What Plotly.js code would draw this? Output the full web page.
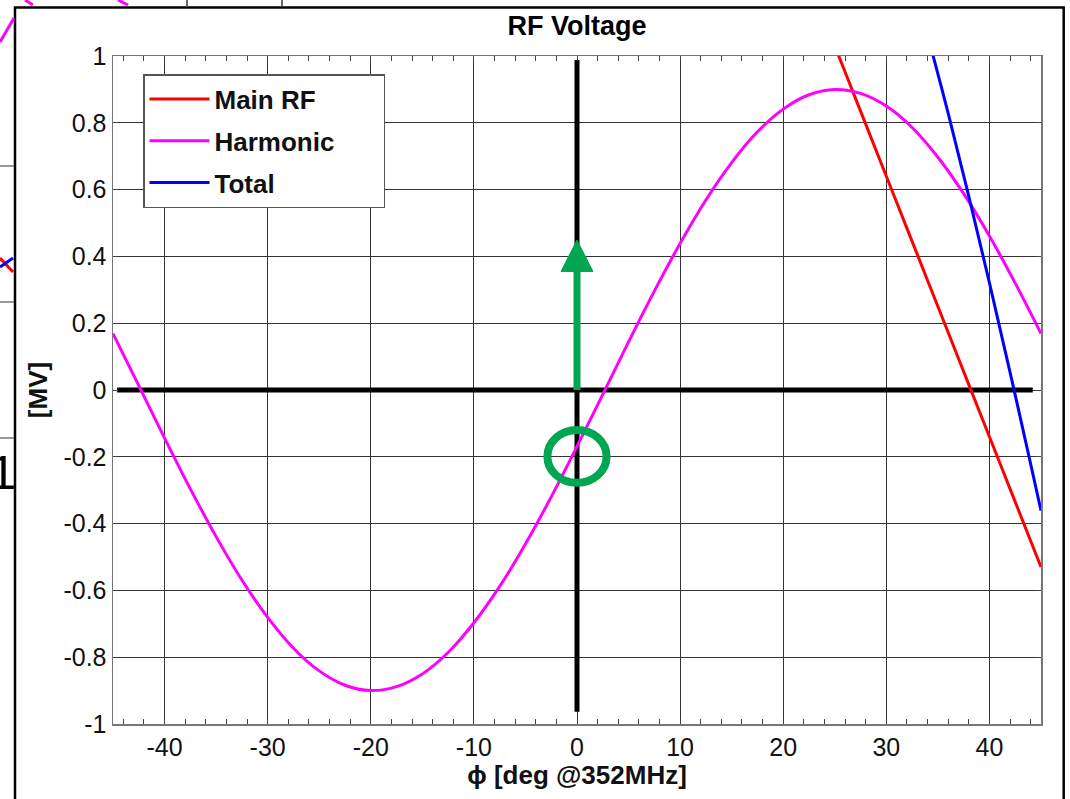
<!DOCTYPE html>
<html>
<head>
<meta charset="utf-8">
<script src="https://cdn.plot.ly/plotly-3.0.1.min.js"></script>
<style>html,body{margin:0;padding:0;background:#fff;}#chart{width:1070px;height:799px;}</style>
</head>
<body>
<div id="chart"></div>
<script>
// ---- data ----
const phiHarm = [-45,-42.5,-40,-37.5,-35,-32.5,-30,-27.5,-25,-22.5,-20,-17.5,-15,-12.5,-10,-7.5,-5,-2.5,0,2.5,5,7.5,10,12.5,15,17.5,20,22.5,25,27.5,30,32.5,35,37.5,40,42.5,45];
const vHarm = [0.169,0.013,-0.144,-0.296,-0.439,-0.569,-0.681,-0.773,-0.841,-0.884,-0.900,-0.888,-0.850,-0.786,-0.697,-0.588,-0.461,-0.320,-0.169,-0.013,0.144,0.296,0.439,0.569,0.681,0.773,0.841,0.884,0.900,0.888,0.850,0.786,0.697,0.588,0.461,0.320,0.169];
const phiMain = [24,26,28,30,32,34,36,38,40,42,44,45];
const vMain = [1.108,0.952,0.796,0.640,0.484,0.328,0.172,0.016,-0.140,-0.296,-0.452,-0.530];
const phiTotal = [33,34,36,38,40,42,44,45];
const vTotal = [1.176,1.063,0.828,0.580,0.321,0.053,-0.222,-0.361];
const axisHX = [-44.6, 44.2], axisHY = [0, 0];
const axisVX = [0, 0], axisVY = [-0.963, 0.988];
const arrowBaseY = 0, arrowHeadBaseY = 0.355, arrowTipY = 0.449, arrowHalfW = 1.55;
const circleX = [-2.87, 2.87], circleY = [-0.278, -0.120];
const xTickVals = [-40,-30,-20,-10,0,10,20,30,40];
const xTickText = ['-40','-30','-20','-10','0','10','20','30','40'];
const yTickVals = [-1,-0.8,-0.6,-0.4,-0.2,0,0.2,0.4,0.6,0.8,1];
const yTickText = ['-1','-0.8','-0.6','-0.4','-0.2','0','0.2','0.4','0.6','0.8','1'];
const seriesNames = ['Main RF','Harmonic','Total'];

const FONT = 'Liberation Sans, Arial, sans-serif';
const GREEN = 'rgb(0,166,81)';
const NB = '\u00a0';

const traces = [
  {x: axisHX, y: axisHY, mode:'lines', line:{color:'#000', width:5}, showlegend:false, hoverinfo:'skip'},
  {x: axisVX, y: axisVY, mode:'lines', line:{color:'#000', width:5}, showlegend:false, hoverinfo:'skip'},
  {x: phiMain, y: vMain, name: seriesNames[0], mode:'lines', line:{color:'#FF0000', width:3, shape:'spline'}, legendgroup:'a'},
  {x: phiHarm, y: vHarm, name: seriesNames[1] + NB.repeat(6), mode:'lines', line:{color:'#FF00FF', width:3, shape:'spline'}, legendgroup:'b'},
  {x: phiTotal, y: vTotal, name: seriesNames[2], mode:'lines', line:{color:'#0000FF', width:3, shape:'spline'}, legendgroup:'c'}
];

// pixel -> paper helpers for decorations outside the axes (screenshot frame)
const L = 113, R = 1041, T = 56, B = 724;
const px = v => (v - L) / (R - L);
const py = v => (B - v) / (B - T);

const shapes = [
  // green arrow
  {type:'line', xref:'x', yref:'y', x0:0, x1:0, y0:arrowBaseY, y1:arrowHeadBaseY+0.005, line:{color:GREEN, width:7}},
  {type:'path', xref:'x', yref:'y', path:`M ${-arrowHalfW},${arrowHeadBaseY} L ${arrowHalfW},${arrowHeadBaseY} L 0,${arrowTipY} Z`, fillcolor:GREEN, line:{color:GREEN, width:1}},
  // green circle
  {type:'circle', xref:'x', yref:'y', x0:circleX[0], x1:circleX[1], y0:circleY[0], y1:circleY[1], line:{color:GREEN, width:8}},
  // outer figure frame
  {type:'rect', xref:'paper', yref:'paper', x0:px(15), x1:px(1063.7), y0:py(830), y1:py(7.5), line:{color:'#000', width:2.5}},
  // screenshot leftovers
  {type:'line', xref:'paper', yref:'paper', x0:px(0), x1:px(14), y0:py(166), y1:py(166), line:{color:'#777', width:1.5}},
  {type:'line', xref:'paper', yref:'paper', x0:px(0), x1:px(14), y0:py(302), y1:py(302), line:{color:'#777', width:1.5}},
  {type:'line', xref:'paper', yref:'paper', x0:px(0), x1:px(14), y0:py(438), y1:py(438), line:{color:'#777', width:1.5}},
  {type:'line', xref:'paper', yref:'paper', x0:px(187), x1:px(187), y0:py(0), y1:py(6), line:{color:'#333', width:1.5}},
  {type:'line', xref:'paper', yref:'paper', x0:px(282), x1:px(282), y0:py(0), y1:py(6), line:{color:'#333', width:1.5}},
  {type:'line', xref:'paper', yref:'paper', x0:px(0), x1:px(14), y0:py(42), y1:py(18), line:{color:'#FF00FF', width:3}},
  {type:'line', xref:'paper', yref:'paper', x0:px(25), x1:px(33), y0:py(0), y1:py(5), line:{color:'#FF00FF', width:3}},
  {type:'line', xref:'paper', yref:'paper', x0:px(118), x1:px(128), y0:py(0), y1:py(5), line:{color:'#FF00FF', width:3}},
  {type:'line', xref:'paper', yref:'paper', x0:px(0), x1:px(13), y0:py(258), y1:py(272), line:{color:'#FF0000', width:3}},
  {type:'line', xref:'paper', yref:'paper', x0:px(0), x1:px(13), y0:py(267), y1:py(258), line:{color:'#0000FF', width:3}}
];

const layout = {
  width:1070, height:799,
  margin:{l:L, r:1070-R, t:T, b:799-B, pad:0},
  paper_bgcolor:'#fff', plot_bgcolor:'#fff',
  font:{family:FONT, color:'#111', size:25},
  title:{text:'RF Voltage', font:{family:FONT, size:27, weight:'bold', color:'#000'}, x:0.5, xref:'paper', y:1-26/799, yref:'container', yanchor:'middle'},
  xaxis:{
    range:[-45,45], tickvals:xTickVals, ticktext:xTickText,
    showgrid:true, gridcolor:'#333', gridwidth:1, zeroline:false,
    showline:true, linecolor:'#777', linewidth:1.5, mirror:'allticks',
    ticks:'inside', ticklen:5, tickcolor:'#444', tickwidth:1,
    minor:{dtick:2, tick0:0, ticks:'inside', ticklen:5, tickcolor:'#444', tickwidth:1, showgrid:false},
    tickfont:{family:FONT, size:25, color:'#111'},
    title:{text:'ϕ [deg @352MHz]', font:{family:FONT, size:26, weight:'bold', color:'#111'}, standoff:6}
  },
  yaxis:{
    range:[-1,1], tickvals:yTickVals, ticktext:yTickText,
    showgrid:true, gridcolor:'#333', gridwidth:1, zeroline:false,
    showline:true, linecolor:'#777', linewidth:1.5, mirror:'allticks',
    ticks:'inside', ticklen:5, tickcolor:'#444', tickwidth:1,
    tickfont:{family:FONT, size:25, color:'#111'},
    title:{text:'[MV]', font:{family:FONT, size:26, weight:'bold', color:'#111'}, standoff:8}
  },
  legend:{x:px(143), y:py(74), xanchor:'left', yanchor:'top', bgcolor:'#fff', bordercolor:'#555', borderwidth:1.5,
    font:{family:FONT, size:26, weight:'bold', color:'#111'}, tracegroupgap:5, traceorder:'grouped', itemwidth:60},
  shapes:shapes,
  annotations:[
    {xref:'paper', yref:'paper', x:px(18), y:py(472), xanchor:'right', yanchor:'middle', text:'1', showarrow:false, font:{family:FONT, size:49, color:'#000'}}
  ],
  showlegend:true
};

Plotly.newPlot('chart', traces, layout, {displayModeBar:false, staticPlot:true});
</script>
</body>
</html>
